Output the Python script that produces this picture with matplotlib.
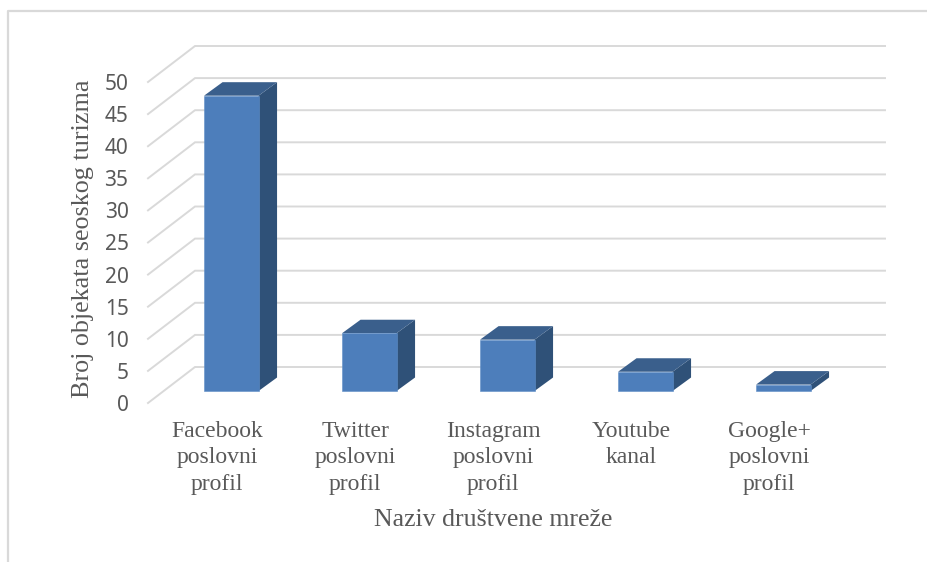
import matplotlib
matplotlib.use('Agg')
import matplotlib.pyplot as plt
from matplotlib.lines import Line2D

# data
categories = ['Facebook\nposlovni\nprofil', 'Twitter\nposlovni\nprofil', 'Instagram\nposlovni\nprofil',
              'Youtube\nkanal', 'Google+\nposlovni\nprofil']
values = [46, 9, 8, 3, 1]
y_ticks = [0, 5, 10, 15, 20, 25, 30, 35, 40, 45, 50]

W, H = 928, 562
serif = 'Liberation Serif'
text_color = '#595959'
grid_color = '#d9d9d9'

fig = plt.figure(figsize=(W / 100, H / 100), dpi=100)
# axes plane = front edge of the 3D floor
ax = fig.add_axes([148 / W, 1 - 403 / H, 690 / W, 321 / H])
ax.set_xlim(-0.5, 4.5)
ax.set_ylim(0, 50)
for s in ax.spines.values():
    s.set_visible(False)

# depth of floor, in data units
depth_x = 47 / 138
depth_y = 36 / 6.42
bar_w = 0.395

# gridlines: diagonal + back wall
x0, x1 = ax.get_xlim()
for t in y_ticks:
    ax.plot([x0, x0 + depth_x, x1 + depth_x], [t, t + depth_y, t + depth_y],
            color=grid_color, lw=1.4, clip_on=False, zorder=1, solid_joinstyle='miter')

# bars, offsets from the axes plane
fx, fy = 14.3 / 138, depth_y * 0.333
dx, dy = 18.5 / 138, depth_y * 0.375
for i, v in enumerate(values):
    left = i - bar_w / 2 + fx
    right = i + bar_w / 2 + fx
    # side
    ax.fill([right, right + dx, right + dx, right],
            [fy, fy + dy, fy + v + dy, fy + v],
            color='#2f5178', lw=0, clip_on=False, zorder=3)
    # top
    ax.fill([left, right, right + dx, left + dx],
            [fy + v, fy + v, fy + v + dy, fy + v + dy],
            color='#3a5f8c', lw=0, clip_on=False, zorder=3)
    # front
    ax.bar(i + fx, v, width=bar_w, bottom=fy, color='#4d7ebb', edgecolor='#5f8fc8',
           linewidth=0.4, clip_on=False, zorder=4)

ax.set_xticks(range(len(categories)))
ax.set_xticklabels(categories, family=serif, fontsize=17, color=text_color, linespacing=1.33)
ax.set_yticks(y_ticks)
ax.set_yticklabels(y_ticks, family='Noto Sans', fontsize=15, color=text_color)
ax.tick_params(axis='x', length=0, pad=13)
ax.tick_params(axis='y', length=0, pad=14)

fig.text(493 / W, 1 - 520.5 / H, 'Naziv društvene mreže', family=serif, fontsize=18.6,
         color=text_color, ha='center', va='center')
fig.text(83.5 / W, 1 - 239 / H, 'Broj objekata seoskog turizma', family=serif, fontsize=18.8,
         color=text_color, ha='center', va='center', rotation=90)

# chart frame, only left and top are in the crop
fig.add_artist(Line2D([8 / W, 8 / W, 1], [0, 1 - 10.5 / H, 1 - 10.5 / H], color='#d9d9d9', lw=1.6))

fig.savefig('out.png', dpi=100)
